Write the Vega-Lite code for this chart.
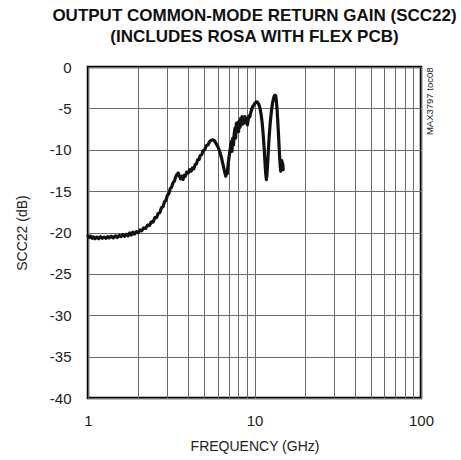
{
  "$schema": "https://vega.github.io/schema/vega-lite/v6.json",
  "autosize": {"type": "none"},
  "width": 333,
  "height": 331,
  "padding": {"left": 88, "top": 67, "right": 40, "bottom": 62},
  "background": "white",
  "config": {
    "view": {"stroke": "black", "strokeWidth": 2.5},
    "font": "Liberation Sans",
    "axis": {
      "labelFont": "Liberation Sans",
      "titleFont": "Liberation Sans",
      "labelFontSize": 15,
      "titleFontSize": 14,
      "labelColor": "#222",
      "titleColor": "#222",
      "titleFontWeight": "normal",
      "ticks": false,
      "domain": false,
      "gridColor": "#6a6a6a",
      "gridWidth": 1,
      "gridOpacity": 1
    }
  },
  "title": {
    "text": ["OUTPUT COMMON-MODE RETURN GAIN (SCC22)", "(INCLUDES ROSA WITH FLEX PCB)"],
    "font": "Liberation Sans",
    "fontSize": 17,
    "fontWeight": "bold",
    "color": "#111",
    "lineHeight": 21,
    "anchor": "middle",
    "offset": 14
  },
  "data": {
    "values": [
      {"f": 1.00, "db": -20.4}, {"f": 1.02, "db": -20.6}, {"f": 1.04, "db": -20.45}, {"f": 1.06, "db": -20.7},
      {"f": 1.08, "db": -20.55}, {"f": 1.10, "db": -20.75}, {"f": 1.13, "db": -20.55}, {"f": 1.16, "db": -20.75},
      {"f": 1.19, "db": -20.5}, {"f": 1.22, "db": -20.7}, {"f": 1.25, "db": -20.55}, {"f": 1.28, "db": -20.7},
      {"f": 1.31, "db": -20.5}, {"f": 1.34, "db": -20.65}, {"f": 1.38, "db": -20.45}, {"f": 1.42, "db": -20.65},
      {"f": 1.46, "db": -20.4}, {"f": 1.50, "db": -20.6}, {"f": 1.54, "db": -20.35}, {"f": 1.58, "db": -20.5},
      {"f": 1.62, "db": -20.25}, {"f": 1.66, "db": -20.45}, {"f": 1.70, "db": -20.2}, {"f": 1.74, "db": -20.4},
      {"f": 1.78, "db": -20.05}, {"f": 1.82, "db": -20.3}, {"f": 1.86, "db": -19.95}, {"f": 1.90, "db": -20.2},
      {"f": 1.95, "db": -19.9}, {"f": 2.00, "db": -20.05}, {"f": 2.05, "db": -19.7}, {"f": 2.10, "db": -19.8},
      {"f": 2.16, "db": -19.45}, {"f": 2.22, "db": -19.5}, {"f": 2.28, "db": -19.1}, {"f": 2.34, "db": -19.15},
      {"f": 2.40, "db": -18.7}, {"f": 2.46, "db": -18.75}, {"f": 2.52, "db": -18.2}, {"f": 2.58, "db": -18.2},
      {"f": 2.64, "db": -17.7}, {"f": 2.70, "db": -17.6}, {"f": 2.76, "db": -17.0}, {"f": 2.82, "db": -16.9},
      {"f": 2.88, "db": -16.3}, {"f": 2.94, "db": -16.1}, {"f": 3.00, "db": -15.5}, {"f": 3.06, "db": -15.3},
      {"f": 3.12, "db": -14.7}, {"f": 3.18, "db": -14.5}, {"f": 3.24, "db": -14.0}, {"f": 3.30, "db": -13.8},
      {"f": 3.36, "db": -13.3}, {"f": 3.42, "db": -13.0}, {"f": 3.48, "db": -12.8}, {"f": 3.54, "db": -13.2},
      {"f": 3.60, "db": -13.5}, {"f": 3.66, "db": -13.2}, {"f": 3.72, "db": -13.6}, {"f": 3.78, "db": -13.1},
      {"f": 3.84, "db": -13.2}, {"f": 3.92, "db": -12.7}, {"f": 4.00, "db": -12.8}, {"f": 4.08, "db": -12.4},
      {"f": 4.16, "db": -12.6}, {"f": 4.24, "db": -12.2}, {"f": 4.32, "db": -12.3}, {"f": 4.40, "db": -11.8},
      {"f": 4.48, "db": -11.7}, {"f": 4.56, "db": -11.2}, {"f": 4.64, "db": -11.2}, {"f": 4.72, "db": -10.7},
      {"f": 4.82, "db": -10.6}, {"f": 4.92, "db": -10.1}, {"f": 5.02, "db": -10.0}, {"f": 5.14, "db": -9.5},
      {"f": 5.26, "db": -9.4}, {"f": 5.38, "db": -9.0}, {"f": 5.50, "db": -8.85}, {"f": 5.62, "db": -8.8},
      {"f": 5.74, "db": -8.9}, {"f": 5.86, "db": -9.2}, {"f": 5.98, "db": -9.5}, {"f": 6.10, "db": -9.9},
      {"f": 6.22, "db": -10.4}, {"f": 6.34, "db": -11.0}, {"f": 6.44, "db": -11.6}, {"f": 6.54, "db": -12.2},
      {"f": 6.64, "db": -12.8}, {"f": 6.72, "db": -13.2}, {"f": 6.78, "db": -12.6}, {"f": 6.86, "db": -12.9},
      {"f": 6.94, "db": -11.8}, {"f": 7.02, "db": -11.0}, {"f": 7.10, "db": -10.3}, {"f": 7.18, "db": -9.6},
      {"f": 7.26, "db": -9.0}, {"f": 7.32, "db": -10.2}, {"f": 7.40, "db": -8.6}, {"f": 7.48, "db": -9.4},
      {"f": 7.56, "db": -8.0}, {"f": 7.64, "db": -7.4}, {"f": 7.70, "db": -8.6}, {"f": 7.78, "db": -6.8},
      {"f": 7.86, "db": -7.6}, {"f": 7.94, "db": -6.7}, {"f": 8.02, "db": -7.8}, {"f": 8.10, "db": -6.5},
      {"f": 8.18, "db": -7.3}, {"f": 8.26, "db": -6.2}, {"f": 8.34, "db": -7.0}, {"f": 8.42, "db": -6.0},
      {"f": 8.50, "db": -6.9}, {"f": 8.58, "db": -6.1}, {"f": 8.66, "db": -6.8}, {"f": 8.76, "db": -6.0},
      {"f": 8.86, "db": -6.6}, {"f": 8.96, "db": -6.2}, {"f": 9.06, "db": -7.0}, {"f": 9.16, "db": -6.4},
      {"f": 9.26, "db": -5.9}, {"f": 9.38, "db": -6.0}, {"f": 9.50, "db": -5.5}, {"f": 9.62, "db": -5.1},
      {"f": 9.76, "db": -4.8}, {"f": 9.90, "db": -4.6}, {"f": 10.05, "db": -4.4}, {"f": 10.20, "db": -4.25},
      {"f": 10.35, "db": -4.2}, {"f": 10.50, "db": -4.35}, {"f": 10.65, "db": -4.6}, {"f": 10.80, "db": -5.0},
      {"f": 10.95, "db": -5.7}, {"f": 11.10, "db": -6.6}, {"f": 11.25, "db": -7.9}, {"f": 11.40, "db": -9.5},
      {"f": 11.55, "db": -11.4}, {"f": 11.68, "db": -12.9}, {"f": 11.78, "db": -13.6}, {"f": 11.88, "db": -13.0},
      {"f": 12.00, "db": -11.6}, {"f": 12.12, "db": -10.0}, {"f": 12.25, "db": -8.4}, {"f": 12.40, "db": -7.0},
      {"f": 12.55, "db": -5.9}, {"f": 12.70, "db": -5.0}, {"f": 12.85, "db": -4.3}, {"f": 13.00, "db": -3.8},
      {"f": 13.15, "db": -3.5}, {"f": 13.30, "db": -3.4}, {"f": 13.42, "db": -3.5}, {"f": 13.55, "db": -4.2},
      {"f": 13.68, "db": -5.3}, {"f": 13.80, "db": -6.6}, {"f": 13.92, "db": -8.0}, {"f": 14.04, "db": -9.5},
      {"f": 14.16, "db": -10.9}, {"f": 14.28, "db": -12.0}, {"f": 14.38, "db": -12.6}, {"f": 14.48, "db": -12.0},
      {"f": 14.58, "db": -11.3}, {"f": 14.68, "db": -11.6}, {"f": 14.80, "db": -11.8}, {"f": 14.88, "db": -12.4}
    ]
  },
  "layer": [
    {
      "mark": {"type": "line", "color": "#111", "strokeWidth": 3.2, "strokeJoin": "round", "strokeCap": "round"},
      "encoding": {
        "x": {
          "field": "f", "type": "quantitative",
          "scale": {"type": "log", "domain": [1, 100], "nice": false},
          "axis": {
            "title": "FREQUENCY (GHz)",
            "values": [1, 2, 3, 4, 5, 6, 7, 8, 9, 10, 20, 30, 40, 50, 60, 70, 80, 90, 100],
            "labelExpr": "indexof([1, 10, 100], datum.value) >= 0 ? '' + datum.value : ''",
            "labelPadding": 15,
            "titlePadding": 11,
            "labelFlush": false
          }
        },
        "y": {
          "field": "db", "type": "quantitative",
          "scale": {"domain": [-40, 0], "nice": false, "zero": false},
          "axis": {
            "title": "SCC22 (dB)",
            "values": [-40, -35, -30, -25, -20, -15, -10, -5, 0],
            "labelExpr": "datum.value == 0 ? '0' : '-' + abs(datum.value)",
            "labelPadding": 17,
            "titlePadding": 20
          }
        }
      }
    },
    {
      "mark": {"type": "line", "opacity": 0},
      "encoding": {
        "x": {"field": "f", "type": "quantitative"},
        "y": {
          "field": "db", "type": "quantitative",
          "axis": {
            "orient": "right",
            "title": "MAX3797 toc08",
            "labels": false,
            "grid": false,
            "titleFont": "Liberation Sans",
            "titleFontSize": 9.5,
            "titleAngle": 270,
            "titleAnchor": "end",
            "titleBaseline": "top",
            "titlePadding": 3
          }
        }
      }
    }
  ],
  "resolve": {"axis": {"y": "independent"}}
}
